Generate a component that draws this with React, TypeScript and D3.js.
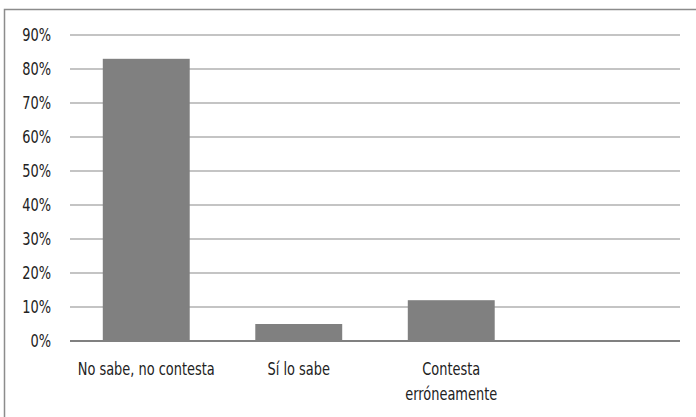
import React from 'react';
import * as d3 from 'd3';

const categories = ['No sabe, no contesta', 'Sí lo sabe', 'Contesta|erróneamente', ''];
const values = [0.83, 0.05, 0.12, null];
const ticks = [0, 0.1, 0.2, 0.3, 0.4, 0.5, 0.6, 0.7, 0.8, 0.9];

const W = 696;
const H = 417;
const LEFT = 70;
const RIGHT = 680;
const TOP = 35;
const BOTTOM = 341;
const FONT = '"DejaVu Sans Condensed", "Liberation Sans Narrow", sans-serif';
// la fuente original es más estrecha: se comprime en horizontal
const SQUEEZE = 0.8;

export default function App() {
  const x = d3
    .scaleBand<string>()
    .domain(categories.map((c, i) => `${i}`))
    .range([LEFT, RIGHT])
    .paddingInner(0.43)
    .paddingOuter(0.215);

  const y = d3.scaleLinear().domain([0, 0.9]).range([BOTTOM, TOP]);
  const fmt = d3.format('.0%');

  return (
    <svg
      width={W}
      height={H}
      style={{ position: 'absolute', left: 0, top: 0, background: '#fff' }}
      fontFamily={FONT}
    >
      {/* marco */}
      <rect x={4.5} y={9.5} width={W + 10} height={H + 10} fill="none" stroke="#8c8c8c" strokeWidth={1.5} />

      <g>
        {ticks.map((t) => (
          <g key={t}>
            {t > 0 && (
              <line x1={LEFT} x2={RIGHT} y1={y(t)} y2={y(t)} stroke="#8a8a8a" strokeWidth={1.2} />
            )}
            <text
              transform={`translate(51,${y(t)}) scale(${SQUEEZE},1)`}
              dy="0.36em"
              textAnchor="end"
              fontSize={18}
              fill="#222"
            >
              {fmt(t)}
            </text>
          </g>
        ))}
      </g>

      <g>
        {values.map((v, i) =>
          v == null ? null : (
            <rect
              key={i}
              x={x(`${i}`)}
              width={x.bandwidth()}
              y={y(v)}
              height={BOTTOM - y(v)}
              fill="#808080"
            />
          )
        )}
      </g>

      <line x1={LEFT} x2={RIGHT} y1={BOTTOM} y2={BOTTOM} stroke="#808080" strokeWidth={2} />

      <g>
        {categories.map((c, i) => {
          const cx = (x(`${i}`) as number) + x.bandwidth() / 2;
          return (
            <text
              key={i}
              transform={`translate(${cx},375) scale(${SQUEEZE},1)`}
              textAnchor="middle"
              fontSize={18}
              fill="#222"
            >
              {c.split('|').map((line, j) => (
                <tspan key={j} x={0} dy={j === 0 ? 0 : 25}>
                  {line}
                </tspan>
              ))}
            </text>
          );
        })}
      </g>
    </svg>
  );
}
